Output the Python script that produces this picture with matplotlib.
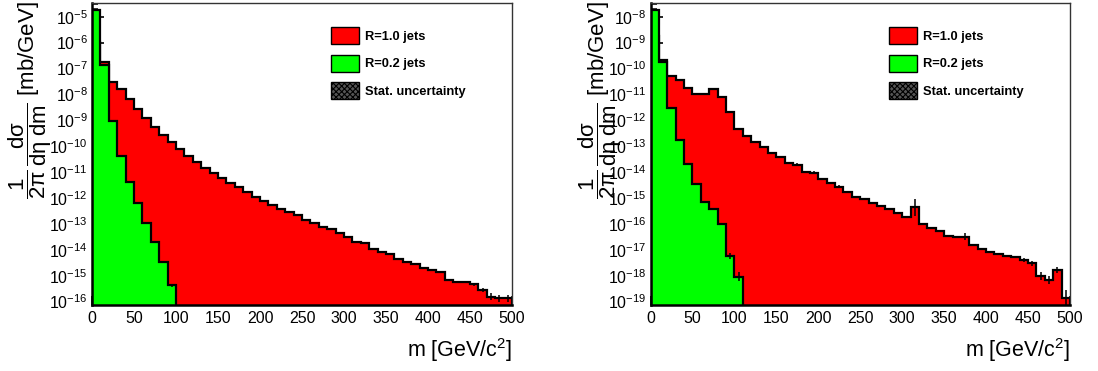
import numpy as np
import matplotlib
matplotlib.use('Agg')
import matplotlib.pyplot as plt
from matplotlib.patches import Patch
from matplotlib.ticker import LogLocator, MultipleLocator, NullFormatter, LogFormatterSciNotation

plt.rcParams['font.family'] = ['Liberation Sans', 'DejaVu Sans']
plt.rcParams['mathtext.fontset'] = 'custom'
plt.rcParams['mathtext.rm'] = 'Liberation Sans'
plt.rcParams['mathtext.it'] = 'Liberation Sans'
plt.rcParams['mathtext.bf'] = 'Liberation Sans:bold'
plt.rcParams['mathtext.sf'] = 'Liberation Sans'
plt.rcParams['hatch.linewidth'] = 0.8

# ---------------- data (log10 of bin contents, 10 GeV bins) ----------------
bin_edges = np.arange(0, 501, 10)

left_r10_log10 = [-5.96, -6.76, -7.51, -7.79, -8.16, -8.55, -8.92, -9.27, -9.56, -9.85,
                  -10.10, -10.36, -10.62, -10.83, -11.03, -11.22, -11.41, -11.58, -11.76, -11.95,
                  -12.11, -12.25, -12.41, -12.55, -12.66, -12.85, -12.95, -13.10, -13.18, -13.36,
                  -13.49, -13.68, -13.75, -13.97, -14.07, -14.16, -14.35, -14.46, -14.54, -14.71,
                  -14.78, -14.84, -15.16, -15.23, -15.25, -15.33, -15.55, -15.81, -15.87, -15.87]
left_r02_log10 = [-4.74, -6.86, -9.01, -10.36, -11.37, -12.20, -12.97, -13.71, -14.48, -15.36]

right_r10_log10 = [-8.74, -9.67, -10.29, -10.44, -10.74, -10.98, -10.99, -10.78, -11.08, -11.66,
                   -12.34, -12.59, -12.82, -13.02, -13.25, -13.40, -13.63, -13.72, -13.98, -14.02,
                   -14.27, -14.43, -14.56, -14.76, -14.95, -15.05, -15.20, -15.31, -15.41, -15.59,
                   -15.72, -15.36, -16.00, -16.17, -16.26, -16.45, -16.49, -16.49, -16.81, -16.97,
                   -17.07, -17.16, -17.22, -17.29, -17.39, -17.52, -18.00, -18.16, -17.78, -18.87]
right_r02_log10 = [-7.74, -9.76, -11.53, -12.76, -13.68, -14.46, -15.14, -15.42, -16.01, -17.24, -18.03]

# statistical error half-widths (in decades) for visible error bars
left_r10_err = [0.0] * 44 + [0.03, 0.05, 0.08, 0.13, 0.13, 0.13]
left_r02_err = [0.0] * 8 + [0.03, 0.06]
right_r10_err = ([0.0] * 17 + [0.06, 0.0, 0.07, 0.0, 0.0, 0.06] + [0.0] * 8 + [0.32] +
                 [0.0] * 5 + [0.13] + [0.0] * 6 + [0.08, 0.10, 0.15, 0.15, 0.12, 0.32])
right_r02_err = [0.0] * 9 + [0.10, 0.19]

left_ylim_log10 = (-16.13, -4.47)
right_ylim_log10 = (-19.13, -7.47)

legend_labels = ['R=1.0 jets', 'R=0.2 jets', 'Stat. uncertainty']
xlabel = r'm [GeV/c$^{2}$]'
ylabel = r'$\dfrac{1}{2\pi}\,\dfrac{d\sigma}{d\eta\;dm}$ [mb/GeV]'

RED = '#ff0000'
GREEN = '#00ff00'
BAND = 0.03

W, H = 1098, 371
fig = plt.figure(figsize=(W / 100, H / 100), dpi=100)


def panel(rect, r10_log, r02_log, r10_err, r02_err, ylim_log):
    ax = fig.add_axes(rect)
    base = 10.0 ** (ylim_log[0] - 3)
    for vals_log, errs, color, z in ((r10_log, r10_err, RED, 2), (r02_log, r02_err, GREEN, 6)):
        v = 10.0 ** np.array(vals_log)
        e = np.array(errs)
        edges = bin_edges[:len(v) + 1]
        centers = 0.5 * (edges[:-1] + edges[1:])
        # stat band (gray shadow)
        ax.stairs(v * 10 ** BAND, edges, baseline=v / 10 ** BAND, fill=True,
                  facecolor='#9a9a9a', edgecolor='none', alpha=0.8, zorder=z - 1)
        ax.stairs(v, edges, baseline=base, fill=True, facecolor=color,
                  edgecolor='none', zorder=z)
        ax.stairs(v, edges, baseline=base, fill=False, color='black',
                  lw=1.6, zorder=z + 1)
        m = e > 0
        ax.vlines(centers[m], v[m] / 10 ** e[m], v[m] * 10 ** e[m], color='black',
                  lw=1.1, zorder=z + 2)
    ax.set_xlim(0, 500)
    ax.set_yscale('log')
    ax.set_ylim(10 ** ylim_log[0], 10 ** ylim_log[1])
    ax.xaxis.set_major_locator(MultipleLocator(50))
    ax.xaxis.set_minor_locator(MultipleLocator(10))
    ax.yaxis.set_major_locator(LogLocator(base=10, numticks=40))
    ax.yaxis.set_minor_locator(LogLocator(base=10, subs=np.arange(2, 10), numticks=40))
    ax.yaxis.set_minor_formatter(NullFormatter())
    ax.yaxis.set_major_formatter(LogFormatterSciNotation())
    ax.tick_params(axis='both', which='both', direction='in', top=False, right=False,
                   labelsize=11.5, color='black')
    ax.tick_params(axis='x', which='major', length=6.5, width=1.2, pad=4)
    ax.tick_params(axis='x', which='minor', length=3.2, width=1.1)
    ax.tick_params(axis='y', which='major', length=8.6, width=1.2, pad=3)
    ax.tick_params(axis='y', which='minor', length=4.3, width=1.1)
    for s in ('left', 'bottom'):
        ax.spines[s].set_linewidth(1.8)
        ax.spines[s].set_color('black')
    for s in ('top', 'right'):
        ax.spines[s].set_linewidth(1.0)
        ax.spines[s].set_color('#333333')
    for s in ax.spines.values():
        s.set_zorder(10)
    handles = [Patch(facecolor=RED, edgecolor='black', lw=1.0),
               Patch(facecolor=GREEN, edgecolor='black', lw=1.0),
               Patch(facecolor='#555555', edgecolor='black', lw=1.0, hatch='xxxxxx')]
    ax.legend(handles, legend_labels, loc='upper left', bbox_to_anchor=(0.569, 0.9205),
              frameon=False, borderpad=0, borderaxespad=0,
              prop={'weight': 'bold', 'size': 9.3}, handlelength=2.17, handleheight=1.7,
              labelspacing=0.78, handletextpad=0.47)
    return ax


def frac_rect(x0, x1, ytop, ybot):
    return [x0 / W, 1 - ybot / H, (x1 - x0) / W, (ybot - ytop) / H]


panel(frac_rect(92, 512, 3, 305), left_r10_log10, left_r02_log10,
      left_r10_err, left_r02_err, left_ylim_log10)
panel(frac_rect(650.5, 1070, 3, 305), right_r10_log10, right_r02_log10,
      right_r10_err, right_r02_err, right_ylim_log10)

for xr in (512, 1070):
    fig.text(xr / W, 1 - 350 / H, xlabel, ha='right', va='center', fontsize=15.5)
for xc in (30, 600):
    fig.text(xc / W, 1 - 1 / H, ylabel, rotation=90, ha='center', va='top', fontsize=16)

fig.savefig('out.png', dpi=100)
